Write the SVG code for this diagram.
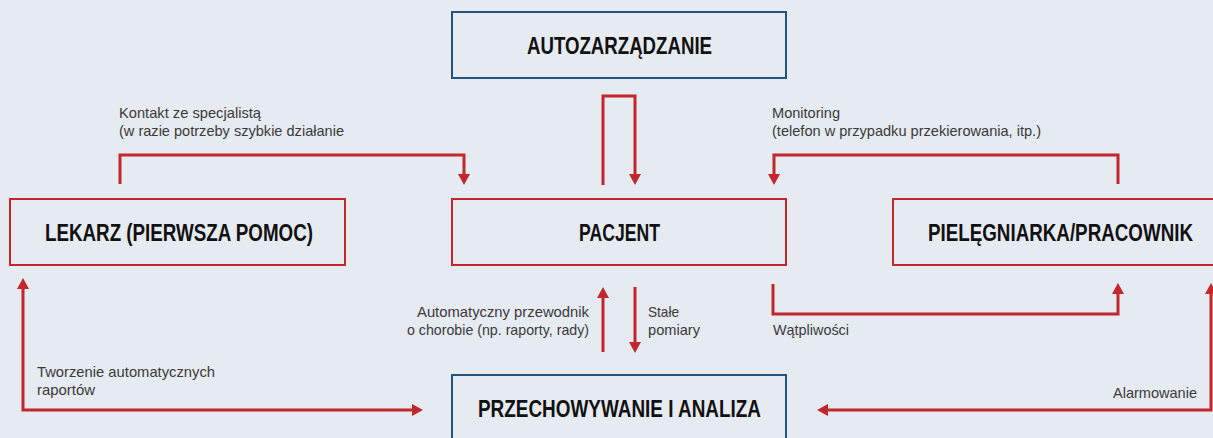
<svg xmlns="http://www.w3.org/2000/svg" width="1213" height="438" viewBox="0 0 1213 438">
<style>
.bg{fill:#e6eaf1}
.bx{fill:none;stroke-width:2}
.red{stroke:#c1272d}
.blue{stroke:#24557a}
.ln{fill:none;stroke:#c1272d;stroke-width:3}
.t{font-family:"Liberation Sans",Arial,sans-serif;font-size:14.5px;fill:#3a3a3a}
.h{font-family:"Liberation Sans",Arial,sans-serif;font-size:23px;font-weight:bold;fill:#111111}
</style>
<defs>
<marker id="ah" markerUnits="userSpaceOnUse" markerWidth="12" markerHeight="12" refX="0" refY="6" orient="auto-start-reverse" viewBox="0 0 11 12">
<path d="M0,0 L11,6 L0,12 z" fill="#c1272d"/>
</marker>
</defs>
<rect class="bg" x="0" y="0" width="1213" height="438"/>
<g id="connectors">
<path class="ln" d="M603,185 V96 H635 V174" marker-end="url(#ah)"/>
<path class="ln" d="M120,184 V155 H464 V174" marker-end="url(#ah)"/>
<path class="ln" d="M1118,184 V155 H774 V174" marker-end="url(#ah)"/>
<path class="ln" d="M603,352 V298" marker-end="url(#ah)"/>
<path class="ln" d="M635,287 V342" marker-end="url(#ah)"/>
<path class="ln" d="M773,284 V314 H1118 V294" marker-end="url(#ah)"/>
<path class="ln" d="M23,289 V410 H412" marker-start="url(#ah)" marker-end="url(#ah)"/>
<path class="ln" d="M1211,294 V410 H828" marker-start="url(#ah)" marker-end="url(#ah)"/>
<text class="t" x="119" y="117.5" textLength="142" lengthAdjust="spacingAndGlyphs">Kontakt ze specjalistą</text>
<text class="t" x="119" y="135.5" textLength="225" lengthAdjust="spacingAndGlyphs">(w razie potrzeby szybkie działanie</text>
<text class="t" x="772" y="117.5" textLength="68" lengthAdjust="spacingAndGlyphs">Monitoring</text>
<text class="t" x="772" y="135.5" textLength="269" lengthAdjust="spacingAndGlyphs">(telefon w przypadku przekierowania, itp.)</text>
<text class="t" x="589" y="317" text-anchor="end" textLength="172" lengthAdjust="spacingAndGlyphs">Automatyczny przewodnik</text>
<text class="t" x="589" y="335" text-anchor="end" textLength="182" lengthAdjust="spacingAndGlyphs">o chorobie (np. raporty, rady)</text>
<text class="t" x="648" y="317" textLength="31" lengthAdjust="spacingAndGlyphs">Stałe</text>
<text class="t" x="648" y="335" textLength="52" lengthAdjust="spacingAndGlyphs">pomiary</text>
<text class="t" x="773" y="335" textLength="76" lengthAdjust="spacingAndGlyphs">Wątpliwości</text>
<text class="t" x="37" y="377" textLength="178" lengthAdjust="spacingAndGlyphs">Tworzenie automatycznych</text>
<text class="t" x="37" y="395" textLength="58" lengthAdjust="spacingAndGlyphs">raportów</text>
<text class="t" x="1113" y="398" textLength="84" lengthAdjust="spacingAndGlyphs">Alarmowanie</text>
</g>
<g id="autozarzadzanie">
<rect class="bx blue" x="452" y="12" width="334" height="66"/>
<text class="h" x="527" y="54" textLength="185" lengthAdjust="spacingAndGlyphs">AUTOZARZĄDZANIE</text>
</g>
<g id="pacjent">
<rect class="bx red" x="452" y="199" width="334" height="66"/>
<text class="h" x="579" y="241" textLength="81" lengthAdjust="spacingAndGlyphs">PACJENT</text>
</g>
<g id="lekarz">
<rect class="bx red" x="10" y="199" width="335" height="66"/>
<text class="h" x="45" y="241" textLength="268" lengthAdjust="spacingAndGlyphs">LEKARZ (PIERWSZA POMOC)</text>
</g>
<g id="pielegniarka">
<rect class="bx red" x="893" y="199" width="330" height="66"/>
<text class="h" x="928" y="241" textLength="265" lengthAdjust="spacingAndGlyphs">PIELĘGNIARKA/PRACOWNIK</text>
</g>
<g id="przechowywanie">
<rect class="bx blue" x="452" y="375" width="334" height="75"/>
<text class="h" x="478" y="417" textLength="283" lengthAdjust="spacingAndGlyphs">PRZECHOWYWANIE I ANALIZA</text>
</g>
</svg>
